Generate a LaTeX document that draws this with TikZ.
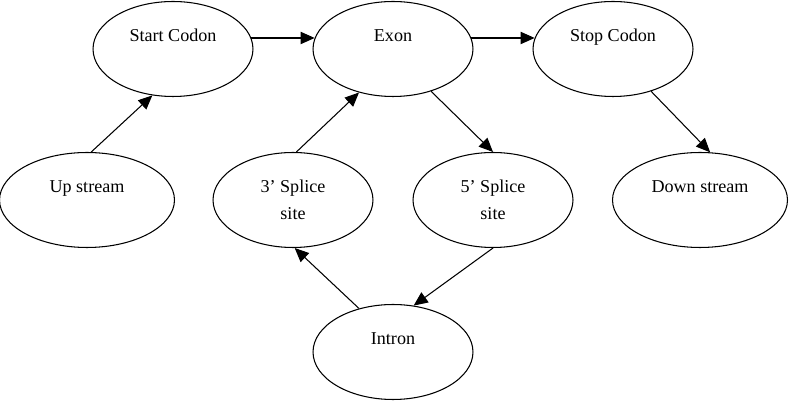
\documentclass[tikz,border=0pt]{standalone}
\usepackage{fontspec}
\setmainfont{Liberation Serif}
\usepackage{tikz}
\usetikzlibrary{shapes.geometric,arrows.meta}

\tikzset{
  oval/.style={draw=black, line width=0.6pt, ellipse, inner sep=0pt,
    minimum width=3.2cm, minimum height=1.9cm, align=center,
    font=\fontsize{10.3}{15.3}\selectfont},
  wideoval/.style={oval, minimum width=3.5cm},
  link/.style={line width=0.6pt, -{Triangle[length=8pt,width=7pt]}}
}

\begin{document}
\begin{tikzpicture}[x=0.02cm, y=-0.02cm]
    \useasboundingbox (0,0) rectangle (794,401);
    % top row
    \node (start) at (173,49) [oval] {Start Codon\\~};
    \node (exon) at (393,49) [oval] {Exon\\~};
    \node (stop) at (613,49) [oval] {Stop Codon\\~};
    % middle row
    \node (up) at (87,200) [wideoval] {Up stream\\~};
    \node (three) at (293,200) [oval] {3’ Splice\\site};
    \node (five) at (493,200) [oval] {5’ Splice\\site};
    \node (down) at (700,200) [wideoval] {Down stream\\~};
    % bottom
    \node (intron) at (393,352) [oval] {Intron\\~};

    \draw[link] (start.8) -- (exon.172);
    \draw[link] (exon.8) -- (stop.172);
    \draw[link] (up.85) -- (start.246);
    \draw[link] (three.86) -- (exon.232);
    \draw[link] (exon.-48) -- (five.north);
    \draw[link] (stop.-48) -- (down.78);
    \draw[link] (five.south) -- (intron.66);
    \draw[link] (intron.128) -- (three.272);
\end{tikzpicture}
\end{document}
